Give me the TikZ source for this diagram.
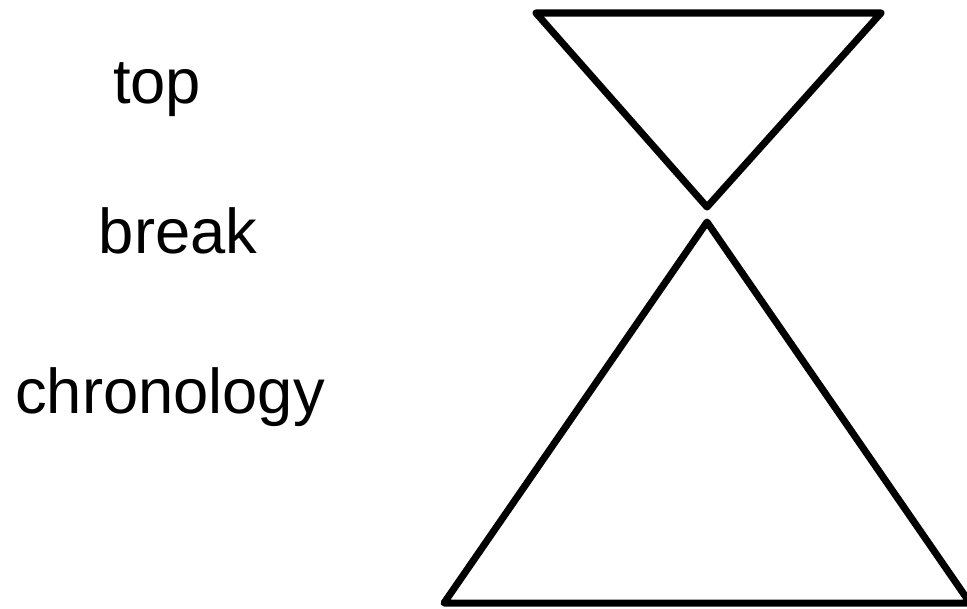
\documentclass[tikz,border=0pt]{standalone}
\usepackage{fontspec}
\setmainfont{Liberation Sans}
\usetikzlibrary{positioning}
\tikzstyle{label}    = [anchor=base, inner sep=0pt, font=\fontsize{18}{21}\selectfont]
\tikzstyle{outline}  = [line width=2pt, line join=round, line cap=round]

\begin{document}
\begin{tikzpicture}[
        x=0.01cm,
        y=-0.01cm
    ]
        \useasboundingbox (0,0) rectangle (967,608);

        % Texte
        \node[label] (top) at (157,103) {top};
        \node[label] (brk) at (178,253) {break};
        \node[label] (chr) at (170,413) {chronology};

        % oberes Dreieck
        \coordinate (t1) at (536,13);
        \coordinate (t2) at (881,13);
        \coordinate (t3) at (707,207);
        \draw[outline] (t1) -- (t2) -- (t3) -- cycle;

        % unteres Dreieck
        \coordinate (b1) at (707,222);
        \coordinate (b2) at (444,603);
        \coordinate (b3) at (970,603);
        \draw[outline] (b1) -- (b3) -- (b2) -- cycle;

    \end{tikzpicture}
\end{document}
